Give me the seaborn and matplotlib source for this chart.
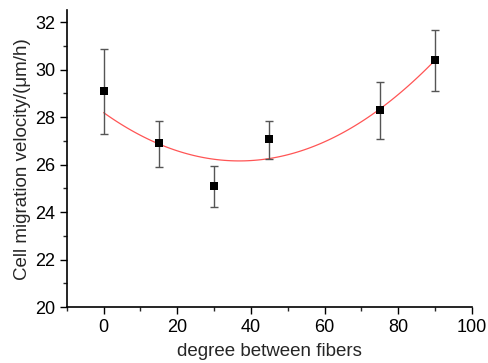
import numpy as np
import pandas as pd
import matplotlib
matplotlib.use("Agg")
import matplotlib.pyplot as plt
import seaborn as sns
from matplotlib.ticker import MultipleLocator

angles = [0, 15, 30, 45, 75, 90]
velocity = [29.11, 26.89, 25.11, 27.06, 28.29, 30.39]
err_low = [27.30, 25.91, 24.20, 26.25, 27.07, 29.08]
err_high = [30.85, 27.85, 25.96, 27.82, 29.46, 31.68]

# red fitted curve
fit_x = [0, 7.5, 15, 22.5, 30, 37.5, 45, 52.5, 60, 67.5, 75, 82.5, 90]
fit_y = [28.18, 27.44, 26.88, 26.46, 26.22, 26.15, 26.25, 26.52, 26.98, 27.57, 28.31, 29.29, 30.40]

df = pd.DataFrame({"angle": angles, "velocity": velocity})
fit_df = pd.DataFrame({"angle": fit_x, "velocity": fit_y})

sns.set_style("ticks")
plt.rcParams["font.family"] = ["Liberation Sans", "DejaVu Sans"]

fig = plt.figure(figsize=(4.88, 3.63), dpi=100)
ax = fig.add_axes([0.137, 0.154, 0.830, 0.818])

sns.regplot(data=fit_df, x="angle", y="velocity", order=2, ci=None, scatter=False,
            truncate=True, line_kws={"color": "#ff5555", "lw": 0.9}, ax=ax)

yerr = np.array([np.array(velocity) - np.array(err_low), np.array(err_high) - np.array(velocity)])
ax.errorbar(angles, velocity, yerr=yerr, fmt="none", ecolor="#555555", elinewidth=1.0,
            capsize=3, capthick=1.0, zorder=3)
sns.scatterplot(data=df, x="angle", y="velocity", marker="s", color="black", s=28,
                edgecolor="black", linewidth=0, zorder=4, ax=ax)

ax.set_xlim(-10, 100)
ax.set_ylim(20, 32.5)
ax.xaxis.set_major_locator(MultipleLocator(20))
ax.xaxis.set_minor_locator(MultipleLocator(10))
ax.yaxis.set_major_locator(MultipleLocator(2))
ax.yaxis.set_minor_locator(MultipleLocator(1))
ax.tick_params(which="major", direction="out", length=5, width=1.0, labelsize=13, colors="black")
ax.tick_params(which="minor", direction="out", length=3, width=1.0)
for s in ["top", "right"]:
    ax.spines[s].set_visible(False)
for s in ["left", "bottom"]:
    ax.spines[s].set_color("black")
    ax.spines[s].set_linewidth(1.2)

ax.set_xlabel("degree between fibers", fontsize=13.5, labelpad=5)
ax.set_ylabel("Cell migration velocity/(\u03bcm/h)", fontsize=13.5, labelpad=3)

fig.savefig("out.png", dpi=100)
